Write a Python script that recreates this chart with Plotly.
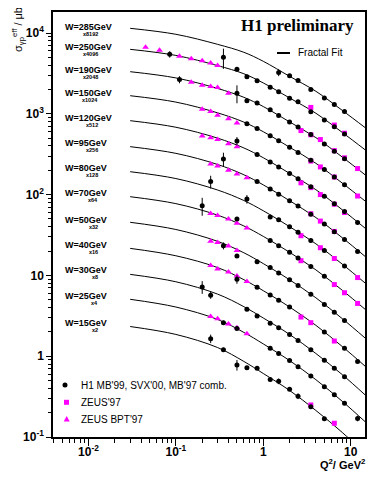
import plotly.graph_objects as go

# ---------------- data ----------------
W_LABELS = ["W=285GeV", "W=250GeV", "W=190GeV", "W=150GeV", "W=120GeV", "W=95GeV", "W=80GeV",
            "W=70GeV", "W=50GeV", "W=40GeV", "W=30GeV", "W=25GeV", "W=15GeV"]
SCALE_LABELS = ["x8192", "x4096", "x2048", "x1024", "x512", "x256", "x128",
                "x64", "x32", "x16", "x8", "x4", "x2"]

# Fractal fit curves (scaled sigma, read at these Q2 values)
FIT_Q2 = [0.03, 0.1, 0.3, 0.6, 1, 2, 4, 8, 15]
FIT_285 = [11430, 9640, 7240, 5770, 4467, 2910, 1900, 1104, 661]
FIT_250 = [6280, 5280, 3950, 3130, 2410, 1570, 1016, 589, 351]
FIT_190 = [3320, 2780, 2060, 1600, 1230, 794, 507, 292, 172]
FIT_150 = [1675, 1396, 1028, 789, 600, 386, 244, 139, 81.5]
FIT_120 = [822, 682, 500, 378, 286, 183, 115, 65.0, 37.6]
FIT_95 = [392, 324, 236, 176, 132, 84.1, 52.0, 29.3, 16.8]
FIT_80 = [192, 158, 114, 84.5, 63.1, 40.1, 24.6, 13.8, 7.87]
FIT_70 = [94.2, 77.3, 55.7, 40.9, 30.4, 19.3, 11.7, 6.56, 3.72]
FIT_50 = [45.4, 37.0, 26.4, 19.05, 14.0, 8.83, 5.28, 2.92, 1.64]
FIT_40 = [21.6, 17.5, 12.5, 8.85, 6.47, 4.06, 2.41, 1.32, 0.735]
FIT_30 = [10.3, 8.34, 5.87, 4.10, 2.97, 1.86, 1.08, 0.592, 0.324]
FIT_25 = [5.06, 4.06, 2.85, 1.97, 1.42, 0.883, 0.512, 0.277, 0.151]
FIT_15 = [2.33, 1.86, 1.28, 0.861, 0.611, 0.377, 0.213, 0.114, 0.0608]

# H1 MB'99, SVX'00, MB'97 combined (scaled sigma) and error in percent
H1_Q2_285 = [1.5, 2, 2.5, 3.5, 5, 6.5, 8.5]
H1_285 = [3250, 2950, 2580, 2000, 1570, 1300, 1070]
H1_ERR_285 = [10, 4, 4, 4, 4, 4, 4]
H1_Q2_250 = [0.085, 0.35, 0.5, 0.65, 0.85, 1.2, 1.5, 2, 2.5, 3.5, 5, 6.5, 8.5]
H1_250 = [5450, 5000, 3560, 2880, 2570, 2130, 1880, 1556, 1413, 1062, 838, 692, 561]
H1_ERR_250 = [9, 28, 4, 4, 4, 4, 4, 4, 4, 4, 4, 4, 4]
H1_Q2_190 = [0.11, 0.5, 0.65, 0.85, 1.2, 1.5, 2, 2.5, 3.5, 5, 6.5, 8.5]
H1_190 = [2650, 1800, 1450, 1360, 1120, 951, 794, 687, 553, 424, 344, 277]
H1_ERR_190 = [10, 25, 5, 4, 4, 4, 4, 4, 4, 4, 4, 4]
H1_Q2_150 = [0.65, 0.85, 1.2, 1.5, 2, 2.5, 3.5, 5, 6.5, 8.5]
H1_150 = [755, 656, 535, 463, 386, 333, 267, 204, 165, 132]
H1_ERR_150 = [5, 4, 4, 4, 4, 4, 4, 4, 4, 4]
H1_Q2_120 = [0.5, 0.85, 1.2, 1.5, 2, 2.5, 3.5, 5, 6.5, 8.5, 12]
H1_120 = [460, 313, 254, 220, 183, 157, 125, 95.3, 76.9, 61.7, 45]
H1_ERR_120 = [12, 4, 4, 4, 4, 4, 4, 4, 4, 4, 5]
H1_Q2_95 = [0.35, 0.85, 1.2, 1.5, 2, 2.5, 3.5, 5, 6.5, 8.5, 12]
H1_95 = [275, 145, 117, 101, 84.1, 72.1, 57.0, 43.3, 34.8, 27.8, 19.8]
H1_ERR_95 = [20, 4, 4, 4, 4, 4, 4, 4, 4, 4, 5]
H1_Q2_80 = [0.25, 0.65, 1.2, 1.5, 2, 2.5, 3.5, 5, 8.5]
H1_80 = [145, 88, 53, 49, 40.1, 34.3, 27.0, 20.4, 13.1]
H1_ERR_80 = [18, 12, 4, 4, 4, 4, 4, 4, 4]
H1_Q2_70 = [0.2, 0.5, 1.2, 1.5, 2, 2.5, 3.5, 5]
H1_70 = [73, 50, 27.0, 23.3, 19.3, 16.4, 12.9, 9.73]
H1_ERR_70 = [25, 5, 4, 4, 4, 4, 4, 4]
H1_Q2_50 = [0.35, 0.5, 0.85, 1.2, 1.5, 2, 2.5, 3.5, 5, 6.5, 8.5]
H1_50 = [23.3, 17.4, 14.8, 12.5, 10.7, 8.83, 7.48, 5.83, 4.37, 3.49, 2.77]
H1_ERR_50 = [10, 5, 4, 4, 4, 4, 4, 4, 4, 4, 4]
H1_Q2_40 = [0.5, 0.85, 1.2, 1.5, 2, 5, 8.5, 12]
H1_40 = [8.95, 7.16, 5.73, 4.93, 4.06, 1.99, 1.25, 0.86]
H1_ERR_40 = [12, 4, 4, 4, 4, 4, 4, 5]
H1_Q2_30 = [0.2, 0.25, 0.65, 0.85, 1.2, 1.5, 2, 2.5, 3.5, 5, 6.5, 8.5]
H1_30 = [7.2, 5.7, 3.8, 3.15, 2.55, 2.25, 1.86, 1.56, 1.20, 0.891, 0.708, 0.558]
H1_ERR_30 = [18, 10, 5, 4, 4, 4, 4, 4, 4, 4, 4, 4]
H1_Q2_25 = [0.35, 0.5, 1.2, 1.5, 2, 2.5, 3.5, 5, 6.5, 8.5, 12]
H1_25 = [2.6, 2.21, 1.25, 1.08, 0.883, 0.741, 0.569, 0.420, 0.333, 0.262, 0.17]
H1_ERR_25 = [6, 5, 4, 4, 4, 4, 4, 4, 4, 4, 8]
H1_Q2_15 = [0.25, 0.35, 0.5, 0.65, 0.85, 1.2, 1.5, 2, 2.5, 3.5, 5]
H1_15 = [1.65, 1.2, 0.78, 0.72, 0.71, 0.515, 0.49, 0.39, 0.32, 0.237, 0.168]
H1_ERR_15 = [12, 6, 15, 5, 5, 5, 8, 5, 8, 5, 5]

# ZEUS'97 (scaled sigma)
ZEUS_Q2_250 = [3.5, 6.5, 8.5]
ZEUS_250 = [1200, 726, 575]
ZEUS_Q2_190 = [2.7, 3.5, 4.5, 6.5, 8.5, 12]
ZEUS_190 = [620, 550, 480, 350, 285, 210]
ZEUS_Q2_150 = [3.5, 4.5, 6.5, 12]
ZEUS_150 = [260, 220, 165, 96]
ZEUS_Q2_120 = [2.7, 3.5, 4.5, 6.5, 8.5]
ZEUS_120 = [140, 122, 100, 76, 60]
ZEUS_Q2_95 = [3.5, 4.5, 6.5]
ZEUS_95 = [58, 47, 35]
ZEUS_Q2_80 = [2.7, 4.5, 6.5, 12]
ZEUS_80 = [31, 22, 16.2, 9.4]
ZEUS_Q2_70 = [2.7, 6.5, 8.5, 12]
ZEUS_70 = [15.2, 7.7, 6.1, 4.5]
ZEUS_Q2_40 = [2.7, 3.5, 6.5]
ZEUS_40 = [3.05, 2.6, 1.54]
ZEUS_Q2_15 = [3.5, 6.5]
ZEUS_15 = [0.249, 0.148]

# ZEUS BPT'97 (scaled sigma)
BPT_Q2_250 = [0.045, 0.065, 0.11, 0.15, 0.2, 0.25, 0.3]
BPT_250 = [6650, 6100, 5150, 4800, 4550, 4250, 3950]
BPT_Q2_190 = [0.15, 0.2, 0.25, 0.3, 0.4]
BPT_190 = [2450, 2250, 2170, 2120, 1800]
BPT_Q2_150 = [0.2, 0.25, 0.3, 0.4, 0.5]
BPT_150 = [1140, 1070, 960, 870, 770]
BPT_Q2_120 = [0.2, 0.25, 0.3, 0.4, 0.5]
BPT_120 = [530, 505, 480, 425, 390]
BPT_Q2_95 = [0.25, 0.3, 0.4, 0.5, 0.65]
BPT_95 = [240, 226, 200, 180, 162]
BPT_Q2_70 = [0.25, 0.3, 0.4, 0.5, 0.65]
BPT_70 = [58.5, 55, 50, 44.3, 38.5]
BPT_Q2_50 = [0.25, 0.3, 0.4, 0.5]
BPT_50 = [26.5, 25.5, 23.1, 20.4]
BPT_Q2_40 = [0.25, 0.3, 0.4, 0.5, 0.65]
BPT_40 = [13.3, 12.0, 11.0, 9.8, 8.4]
BPT_Q2_25 = [0.25, 0.3, 0.4, 0.5, 0.65]
BPT_25 = [3.1, 2.9, 2.5, 2.25, 1.9]

X_TICKS = [0.01, 0.1, 1, 10]
X_TICKTEXT = ["10<sup>-2</sup>", "10<sup>-1</sup>", "1", "10"]
Y_TICKS = [0.1, 1, 10, 100, 1000, 10000]
Y_TICKTEXT = ["10<sup>-1</sup>", "1", "10", "10<sup>2</sup>", "10<sup>3</sup>", "10<sup>4</sup>"]

# ---------------- assemble ----------------
FITS = [FIT_285, FIT_250, FIT_190, FIT_150, FIT_120, FIT_95, FIT_80, FIT_70,
        FIT_50, FIT_40, FIT_30, FIT_25, FIT_15]
H1_SETS = [(H1_Q2_285, H1_285, H1_ERR_285), (H1_Q2_250, H1_250, H1_ERR_250),
           (H1_Q2_190, H1_190, H1_ERR_190), (H1_Q2_150, H1_150, H1_ERR_150),
           (H1_Q2_120, H1_120, H1_ERR_120), (H1_Q2_95, H1_95, H1_ERR_95),
           (H1_Q2_80, H1_80, H1_ERR_80), (H1_Q2_70, H1_70, H1_ERR_70),
           (H1_Q2_50, H1_50, H1_ERR_50), (H1_Q2_40, H1_40, H1_ERR_40),
           (H1_Q2_30, H1_30, H1_ERR_30), (H1_Q2_25, H1_25, H1_ERR_25),
           (H1_Q2_15, H1_15, H1_ERR_15)]
ZEUS_SETS = [(ZEUS_Q2_250, ZEUS_250), (ZEUS_Q2_190, ZEUS_190), (ZEUS_Q2_150, ZEUS_150),
             (ZEUS_Q2_120, ZEUS_120), (ZEUS_Q2_95, ZEUS_95), (ZEUS_Q2_80, ZEUS_80),
             (ZEUS_Q2_70, ZEUS_70), (ZEUS_Q2_40, ZEUS_40), (ZEUS_Q2_15, ZEUS_15)]
BPT_SETS = [(BPT_Q2_250, BPT_250), (BPT_Q2_190, BPT_190), (BPT_Q2_150, BPT_150),
            (BPT_Q2_120, BPT_120), (BPT_Q2_95, BPT_95), (BPT_Q2_70, BPT_70),
            (BPT_Q2_50, BPT_50), (BPT_Q2_40, BPT_40), (BPT_Q2_25, BPT_25)]

MAGENTA = "#ff00ff"
FONT = "Liberation Sans, Arial, Helvetica, sans-serif"
NARROW = "Liberation Sans Narrow, Arial Narrow, Liberation Sans, sans-serif"

fig = go.Figure()

for fit in FITS:
    fig.add_trace(go.Scatter(x=FIT_Q2, y=fit, mode="lines",
                             line=dict(color="black", width=1, shape="spline", smoothing=1.0),
                             hoverinfo="skip", showlegend=False))

zx, zy = [], []
for q, s in ZEUS_SETS:
    zx += q
    zy += s
fig.add_trace(go.Scatter(x=zx, y=zy, mode="markers", showlegend=False,
                         marker=dict(symbol="square", size=5, color=MAGENTA)))

bx, by = [], []
for q, s in BPT_SETS:
    bx += q
    by += s
fig.add_trace(go.Scatter(x=bx, y=by, mode="markers", showlegend=False,
                         marker=dict(symbol="triangle-up", size=6, color=MAGENTA)))

hx, hy, he = [], [], []
for q, s, e in H1_SETS:
    hx += q
    hy += s
    he += [v * p / 100.0 for v, p in zip(s, e)]
fig.add_trace(go.Scatter(x=hx, y=hy, mode="markers", showlegend=False,
                         marker=dict(symbol="circle", size=5, color="black"),
                         error_y=dict(type="data", array=he, arrayminus=he,
                                      color="black", thickness=1, width=0)))

# ---------------- layout helpers ----------------
# The page body adds an 8 px offset, so the figure is 8 px smaller and shifted.
OFF = 8
W, H = 376 - OFF, 477 - OFF
X0, X1, Y0, Y1 = 53, 365, 12, 437          # plot area in window pixels
L, R, T, B = X0 - OFF, W - (X1 - OFF), Y0 - OFF, H - (Y1 - OFF)
PW, PH = X1 - X0, Y1 - Y0


def px(xp):
    return (xp - X0) / PW


def py(yp):
    return 1 - (yp - Y0) / PH


annotations = []
label_y = [26.7, 46.7, 70, 93.3, 118.3, 143.3, 168.3, 193.3, 220, 245, 270, 295.7, 322.7]
for lab, sc, yy in zip(W_LABELS, SCALE_LABELS, label_y):
    annotations.append(dict(x=px(63), y=py(yy), xref="paper", yref="paper", text=lab,
                            showarrow=False, xanchor="left", yanchor="middle",
                            font=dict(family=NARROW, size=9, color="black", weight="bold")))
    annotations.append(dict(x=px(100), y=py(yy + 7), xref="paper", yref="paper", text=sc,
                            showarrow=False, xanchor="right", yanchor="middle",
                            font=dict(family=FONT, size=5.5, color="black", weight="bold")))

annotations.append(dict(x=px(297), y=py(25), xref="paper", yref="paper", text="<b>H1 preliminary</b>",
                        showarrow=False, xanchor="center", yanchor="middle",
                        font=dict(family="Liberation Serif, Times New Roman, serif", size=17, color="black")))
annotations.append(dict(x=px(296), y=py(53), xref="paper", yref="paper", text="Fractal Fit",
                        showarrow=False, xanchor="left", yanchor="middle",
                        font=dict(family=FONT, size=10, color="black")))
for txt, yy in [("H1 MB'99, SVX'00, MB'97 comb.", 385), ("ZEUS'97", 402), ("ZEUS BPT'97", 419)]:
    annotations.append(dict(x=px(79), y=py(yy), xref="paper", yref="paper", text=txt,
                            showarrow=False, xanchor="left", yanchor="middle",
                            font=dict(family=FONT, size=10, color="black")))
annotations.append(dict(x=px(18), y=py(30), xref="paper", yref="paper",
                        text="σ<sub>γp</sub><sup>eff</sup> / μb", textangle=-90,
                        showarrow=False, xanchor="center", yanchor="middle",
                        font=dict(family=FONT, size=11, color="black")))
annotations.append(dict(x=px(367), y=py(464), xref="paper", yref="paper",
                        text="<b>Q<sup>2</sup>/ GeV<sup>2</sup></b>",
                        showarrow=False, xanchor="right", yanchor="middle",
                        font=dict(family=FONT, size=11, color="black")))

shapes = [
    dict(type="line", xref="paper", yref="paper", x0=px(277), x1=px(290), y0=py(53), y1=py(53),
         line=dict(color="black", width=2)),
    dict(type="circle", xref="paper", yref="paper", x0=px(62.5), x1=px(67.5), y0=py(387.5), y1=py(382.5),
         fillcolor="black", line=dict(color="black", width=0)),
    dict(type="rect", xref="paper", yref="paper", x0=px(64), x1=px(69), y0=py(404.8), y1=py(399.8),
         fillcolor=MAGENTA, line=dict(color=MAGENTA, width=0)),
    dict(type="path", xref="paper", yref="paper",
         path=f"M {px(63.7)} {py(421.5)} L {px(69.7)} {py(421.5)} L {px(66.7)} {py(416)} Z",
         fillcolor=MAGENTA, line=dict(color=MAGENTA, width=0)),
]


def minor_vals(lo, hi):
    vals = []
    for e in range(lo, hi + 1):
        for k in range(2, 10):
            vals.append(k * 10.0 ** e)
    return vals


fig.update_layout(
    width=W, height=H,
    margin=dict(l=L, r=R, t=T, b=B, autoexpand=False),
    paper_bgcolor="white", plot_bgcolor="white",
    showlegend=False,
    annotations=annotations, shapes=shapes,
    xaxis=dict(type="log", range=[-2.406, 1.164], showgrid=False, zeroline=False,
               automargin=False,
               showline=True, linecolor="black", linewidth=1.5, mirror=True,
               ticks="outside", ticklen=7, tickwidth=1, tickcolor="black",
               ticklabelstandoff=-4,
               tickmode="array", tickvals=X_TICKS, ticktext=X_TICKTEXT,
               tickfont=dict(family=FONT, size=12, color="black", weight="bold"),
               minor=dict(ticks="outside", ticklen=4, tickwidth=1, tickcolor="black",
                          tickmode="array", tickvals=minor_vals(-3, 1), showgrid=False)),
    yaxis=dict(type="log", range=[-1, 4.26], showgrid=False, zeroline=False,
               automargin=False,
               showline=True, linecolor="black", linewidth=1.5, mirror=True,
               ticks="outside", ticklen=5, tickwidth=1, tickcolor="black",
               tickmode="array", tickvals=Y_TICKS, ticktext=Y_TICKTEXT,
               tickfont=dict(family=FONT, size=12, color="black", weight="bold"),
               minor=dict(ticks="outside", ticklen=3, tickwidth=1, tickcolor="black",
                          tickmode="array", tickvals=minor_vals(-1, 4), showgrid=False)),
)

fig.write_html("out.html")
